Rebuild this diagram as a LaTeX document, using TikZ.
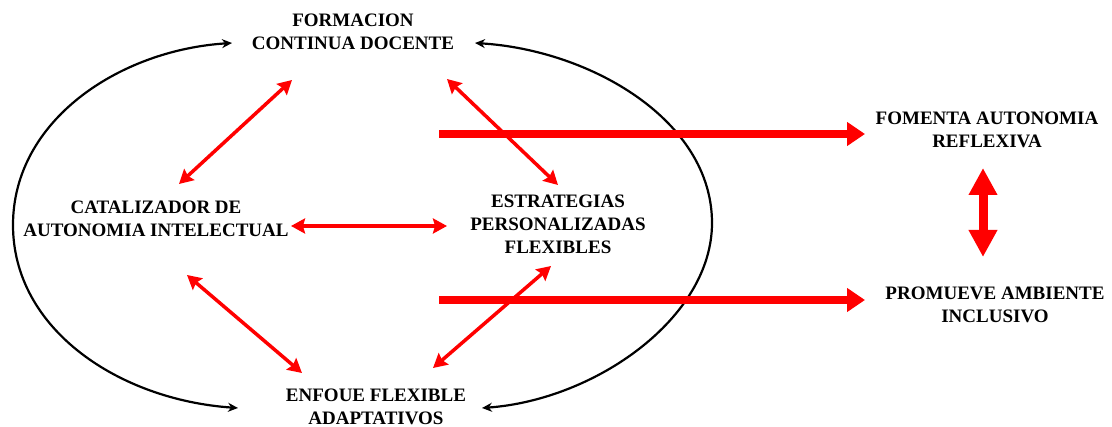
\documentclass[tikz,border=0pt]{standalone}
\usepackage{fontspec}
\setmainfont{Liberation Serif}
\usetikzlibrary{arrows.meta}
\begin{document}
\begin{tikzpicture}[x=1pt,y=-1pt,
  lbl/.style={font=\fontsize{19}{23}\selectfont\bfseries, align=center, inner sep=0pt},
  thin/.style={draw=red, line width=3.5pt, {Stealth[length=14pt,width=15pt,inset=2pt]}-{Stealth[length=14pt,width=15pt,inset=2pt]}},
  thick/.style={draw=red, line width=8.3pt, -{Triangle[length=18pt,width=23pt]}},
  loop/.style={draw=black, line width=2.2pt, {Stealth[length=10pt,width=9pt]}-{Stealth[length=10pt,width=9pt]}}]
\useasboundingbox (0,0) rectangle (1112,427);
\node[lbl] (fcd) at (353,32) {FORMACION\\CONTINUA DOCENTE};
\node[lbl] (cai) at (156,219) {CATALIZADOR DE\\AUTONOMIA INTELECTUAL};
\node[lbl] (epf) at (558,224) {ESTRATEGIAS\\PERSONALIZADAS\\FLEXIBLES};
\node[lbl] (efa) at (376,407) {ENFOUE FLEXIBLE\\ADAPTATIVOS};
\node[lbl] (far) at (987,130) {FOMENTA AUTONOMIA\\REFLEXIVA};
\node[lbl] (pai) at (995,305) {PROMUEVE AMBIENTE\\INCLUSIVO};
% loop end points
\coordinate (l1) at (232,43);  \coordinate (l2) at (238,408);
\coordinate (r1) at (475,43);  \coordinate (r2) at (482,408);
% thin arrow end points
\coordinate (a1) at (292,80);  \coordinate (a2) at (179,184);
\coordinate (b1) at (447,79);  \coordinate (b2) at (558,185);
\coordinate (c1) at (291,226); \coordinate (c2) at (447,226);
\coordinate (d1) at (187,275); \coordinate (d2) at (302,373);
\coordinate (e1) at (551,266); \coordinate (e2) at (433,368);
% thick arrow points
\coordinate (t1) at (439,134); \coordinate (t1e) at (865,134);
\coordinate (t2) at (439,300); \coordinate (t2e) at (865,300);
\coordinate (v1) at (983,168); \coordinate (v2) at (983,257);
% black loops
\draw[loop] (l1) .. controls (120,50) and (13,120) .. (13,225) .. controls (13,330) and (120,400) .. (l2);
\draw[loop] (r1) .. controls (590,50) and (712,120) .. (712,223) .. controls (712,318) and (595,400) .. (r2);
% thick arrows
\draw[thick] (t1) -- (t1e);
\draw[thick] (t2) -- (t2e);
\draw[draw=red, line width=9pt, {Triangle[length=27pt,width=27pt]}-{Triangle[length=27pt,width=27pt]}] (v1) -- (v2);
% thin arrows
\draw[thin] (a1) -- (a2);
\draw[thin] (b1) -- (b2);
\draw[thin] (c1) -- (c2);
\draw[thin] (d1) -- (d2);
\draw[thin] (e1) -- (e2);
\end{tikzpicture}
\end{document}
